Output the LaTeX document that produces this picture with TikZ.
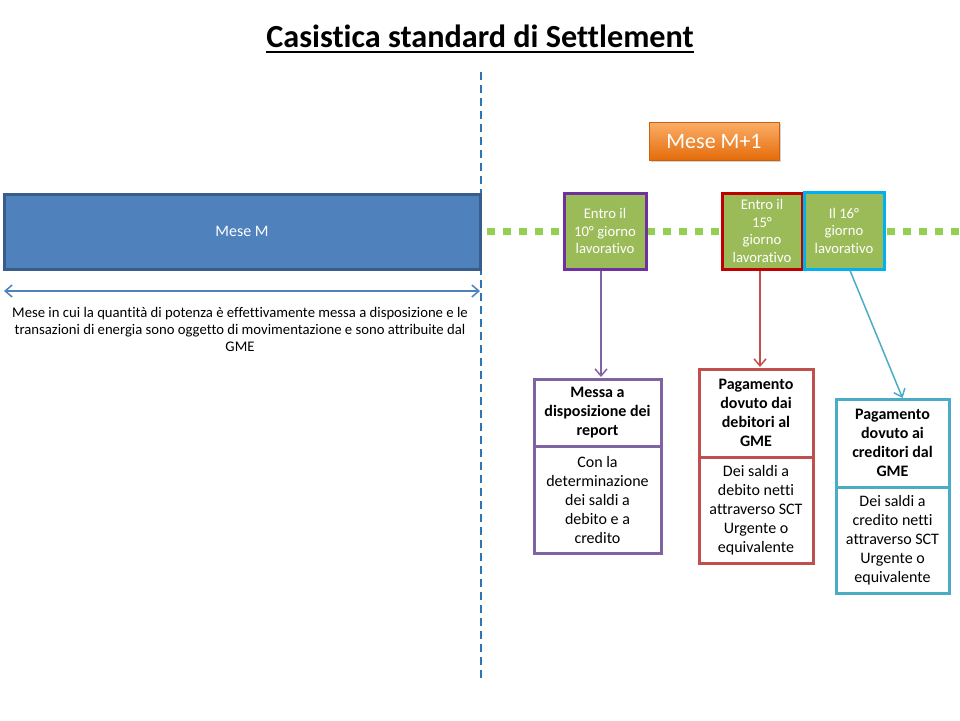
\documentclass[tikz,border=0pt]{standalone}
\usepackage{fontspec}
\setmainfont{Carlito}[Ligatures=NoCommon]
\usetikzlibrary{arrows.meta,shadows}
\definecolor{mblue}{HTML}{4F81BD}
\definecolor{mbluedark}{HTML}{385D8A}
\definecolor{vline}{HTML}{2E75B6}
\definecolor{dotgreen}{HTML}{92D050}
\definecolor{boxgreen}{HTML}{9BBB59}
\definecolor{bpurple}{HTML}{7030A0}
\definecolor{bred}{HTML}{C00000}
\definecolor{bcyan}{HTML}{00B0F0}
\definecolor{lpurple}{HTML}{8064A2}
\definecolor{lred}{HTML}{C0504D}
\definecolor{lcyan}{HTML}{4BACC6}
\definecolor{orangetop}{HTML}{FBAE68}
\definecolor{orangebot}{HTML}{E46C0A}
\tikzset{
  gbox/.style={draw, line width=3pt, fill=boxgreen, text=white, align=center,
    font=\fontsize{14.7}{17.5}\selectfont, inner sep=1pt},
  infobox/.style={draw, line width=3pt, fill=white, align=center,
    font=\fontsize{16}{19}\selectfont, inner sep=1pt, outer sep=0pt, anchor=north},
  arr/.style={line width=1.5pt, -{Straight Barb[length=7pt,width=12pt]}},
}
\begin{document}
\begin{tikzpicture}[x=1pt,y=-1pt]
\useasboundingbox (0,0) rectangle (960,720);
% title
\node[font=\bfseries\fontsize{32.2}{36}\selectfont, inner sep=0pt, anchor=base] (title) at (480,47) {Casistica standard di Settlement};
\draw[line width=2pt] ([yshift=-5pt]title.base west) -- ([yshift=-5pt]title.base east);
% vertical dashed line
\coordinate (vtop) at (481,72);
\coordinate (vbot) at (481,678);
\draw[vline, line width=1.5pt, dash pattern=on 8pt off 5pt] (vtop) -- (vbot);
% green dotted timeline
\coordinate (tl1) at (487,231);
\coordinate (tl2) at (962,231);
\draw[dotgreen, line width=7pt, dash pattern=on 8pt off 8pt] (tl1) -- (tl2);
% Mese M
\node[draw=mbluedark, fill=mblue, line width=3pt, minimum width=476pt, minimum height=75pt,
  text=white, font=\fontsize{16}{19}\selectfont] (mm) at (242,231.5) {Mese M};
\coordinate (da) at (4,291);
\coordinate (db) at (480,291);
\draw[mblue, line width=1.5pt, {Straight Barb[length=7pt,width=12pt]}-{Straight Barb[length=7pt,width=12pt]}] (da) -- (db);
\node[align=center, font=\fontsize{14.7}{17}\selectfont, inner sep=0pt] (cap) at (240,329)
  {Mese in cui la quantità di potenza è effettivamente messa a disposizione e le\\
   transazioni di energia sono oggetto di movimentazione e sono attribuite dal\\
   GME};
% Mese M+1
\node[fill=orange, top color=orangetop, bottom color=orangebot, draw=orangebot!90!black, line width=0.5pt,
  drop shadow={opacity=0.35, shadow xshift=1.5pt, shadow yshift=-1.5pt},
  minimum width=130pt, minimum height=38pt, text=white, font=\fontsize{22}{26}\selectfont] (m1) at (714,141) {Mese M+1};
% green boxes
\node[gbox, draw=bpurple, minimum width=82pt, minimum height=76pt] (b1) at (605,231) {Entro il\\10° giorno\\lavorativo};
\node[gbox, draw=bred, minimum width=80pt, minimum height=76pt] (b2) at (762,231) {Entro il\\15°\\giorno\\lavorativo};
\node[gbox, draw=bcyan, minimum width=80pt, minimum height=77pt] (b3) at (844,230.5) {Il 16°\\giorno\\lavorativo};
% bottom boxes: purple
\node[infobox, draw=lpurple, minimum width=127pt, minimum height=67pt, font=\bfseries\fontsize{16}{19}\selectfont] (pt) at (597.5,379) {Messa a\\disposizione dei\\report};
\node[infobox, draw=lpurple, minimum width=127pt, minimum height=107pt] (pb) at (pt.south) {Con la\\determinazione\\dei saldi a\\debito e a\\credito};
% red
\node[infobox, draw=lred, minimum width=114pt, minimum height=88pt, font=\bfseries\fontsize{16}{19}\selectfont] (rt) at (756,369) {Pagamento\\dovuto dai\\debitori al\\GME};
\node[infobox, draw=lred, minimum width=114pt, minimum height=106pt] (rb) at (rt.south) {Dei saldi a\\debito netti\\attraverso SCT\\Urgente o\\equivalente};
% cyan
\node[infobox, draw=lcyan, minimum width=113pt, minimum height=88pt, font=\bfseries\fontsize{16}{19}\selectfont] (ct) at (892.5,399) {Pagamento\\dovuto ai\\creditori dal\\GME};
\node[infobox, draw=lcyan, minimum width=113pt, minimum height=106pt] (cb) at (ct.south) {Dei saldi a\\credito netti\\attraverso SCT\\Urgente o\\equivalente};
% arrows
\draw[arr, lpurple] ([xshift=-4pt]b1.south) -- ([xshift=-4pt,yshift=2pt]b1.south |- pt.north);
\draw[arr, lred] ([xshift=-2pt]b2.south) -- ([xshift=-2pt,yshift=2pt]b2.south |- rt.north);
\draw[arr, lcyan] ([xshift=6pt]b3.south) -- ([xshift=10pt,yshift=1pt]ct.north);
\end{tikzpicture}
\end{document}
